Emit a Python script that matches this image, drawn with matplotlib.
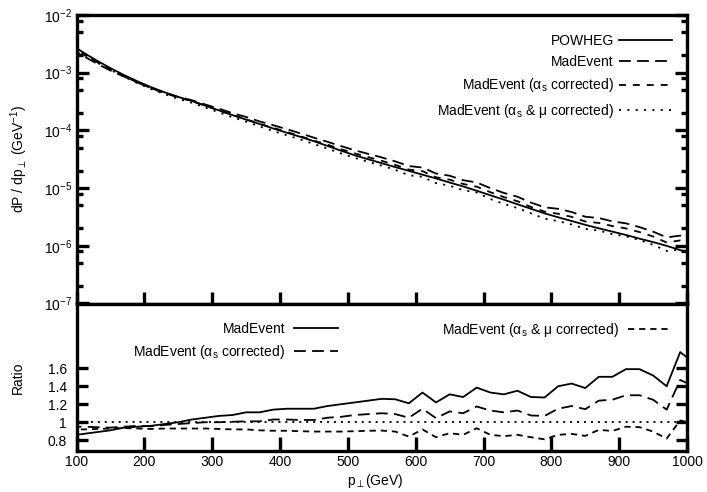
import matplotlib
matplotlib.use('Agg')
import matplotlib.pyplot as plt
from matplotlib.ticker import FixedLocator, FixedFormatter, NullFormatter, NullLocator, LogLocator

# ---------------- data ----------------
pt_bins = [90, 110, 130, 150, 170, 190, 210, 230, 250, 270, 290, 310, 330, 350, 370,
           390, 410, 430, 450, 470, 490, 510, 530, 550, 570, 590, 610, 630, 650, 670,
           690, 710, 730, 750, 770, 790, 810, 830, 850, 870, 890, 910, 930, 950, 970,
           990, 1010]

powheg = [3.16e-3, 2.24e-3, 1.62e-3, 1.20e-3, 9.12e-4, 7.08e-4, 5.62e-4, 4.57e-4, 3.80e-4, 3.24e-4,
          2.68e-4, 2.22e-4, 1.84e-4, 1.54e-4, 1.29e-4, 1.08e-4, 9.12e-5, 7.73e-5, 6.50e-5, 5.38e-5,
          4.45e-5, 3.71e-5, 3.16e-5, 2.70e-5, 2.31e-5, 1.99e-5, 1.71e-5, 1.47e-5, 1.25e-5, 1.07e-5,
          9.0e-6, 7.52e-6, 6.30e-6, 5.25e-6, 4.38e-6, 3.65e-6, 3.12e-6, 2.69e-6, 2.31e-6, 2.01e-6,
          1.76e-6, 1.54e-6, 1.33e-6, 1.16e-6, 9.98e-7, 8.43e-7, 7.14e-7]

madevent = [2.69e-3, 1.95e-3, 1.44e-3, 1.09e-3, 8.57e-4, 6.73e-4, 5.40e-4, 4.48e-4, 3.80e-4, 3.34e-4,
            2.81e-4, 2.38e-4, 1.99e-4, 1.71e-4, 1.43e-4, 1.23e-4, 1.05e-4, 8.89e-5, 7.48e-5, 6.35e-5,
            5.34e-5, 4.53e-5, 3.92e-5, 3.40e-5, 2.90e-5, 2.41e-5, 2.27e-5, 1.79e-5, 1.64e-5, 1.37e-5,
            1.25e-5, 1.00e-5, 8.25e-6, 7.09e-6, 5.61e-6, 4.65e-6, 4.37e-6, 3.85e-6, 3.19e-6, 3.03e-6,
            2.65e-6, 2.45e-6, 2.11e-6, 1.76e-6, 1.40e-6, 1.50e-6, 1.19e-6]

madevent_as = [3.00e-3, 2.13e-3, 1.53e-3, 1.13e-3, 8.66e-4, 6.80e-4, 5.37e-4, 4.43e-4, 3.72e-4, 3.21e-4,
               2.68e-4, 2.22e-4, 1.85e-4, 1.56e-4, 1.30e-4, 1.11e-4, 9.39e-5, 7.92e-5, 6.66e-5, 5.65e-5,
               4.72e-5, 4.01e-5, 3.44e-5, 2.97e-5, 2.52e-5, 2.09e-5, 1.97e-5, 1.54e-5, 1.40e-5, 1.18e-5,
               1.06e-5, 8.50e-6, 6.99e-6, 5.93e-6, 4.71e-6, 3.91e-6, 3.59e-6, 3.17e-6, 2.64e-6, 2.49e-6,
               2.20e-6, 2.00e-6, 1.73e-6, 1.45e-6, 1.14e-6, 1.24e-6, 1.00e-6]

madevent_as_mu = [2.91e-3, 2.06e-3, 1.50e-3, 1.12e-3, 8.53e-4, 6.58e-4, 5.20e-4, 4.25e-4, 3.53e-4, 3.01e-4,
                  2.49e-4, 2.05e-4, 1.69e-4, 1.42e-4, 1.17e-4, 9.77e-5, 8.25e-5, 6.96e-5, 5.82e-5, 4.82e-5,
                  3.99e-5, 3.34e-5, 2.86e-5, 2.45e-5, 2.07e-5, 1.67e-5, 1.57e-5, 1.22e-5, 1.10e-5, 9.20e-6,
                  8.40e-6, 6.47e-6, 5.32e-6, 4.52e-6, 3.65e-6, 2.96e-6, 2.68e-6, 2.34e-6, 1.96e-6, 1.84e-6,
                  1.59e-6, 1.46e-6, 1.26e-6, 1.04e-6, 8.16e-7, 8.60e-7, 7.00e-7]

ratio_madevent = [0.85, 0.87, 0.89, 0.91, 0.94, 0.95, 0.96, 0.98, 1.00, 1.03,
                  1.05, 1.07, 1.08, 1.11, 1.11, 1.14, 1.15, 1.15, 1.15, 1.18,
                  1.20, 1.22, 1.24, 1.26, 1.255, 1.21, 1.33, 1.22, 1.31, 1.28,
                  1.385, 1.33, 1.31, 1.35, 1.28, 1.275, 1.40, 1.43, 1.38, 1.505,
                  1.505, 1.59, 1.59, 1.52, 1.40, 1.78, 1.66]

ratio_alphas = [0.95, 0.95, 0.945, 0.94, 0.95, 0.96, 0.955, 0.97, 0.98, 0.99,
                1.00, 1.00, 1.005, 1.01, 1.01, 1.03, 1.03, 1.025, 1.025, 1.05,
                1.06, 1.08, 1.09, 1.10, 1.09, 1.05, 1.15, 1.045, 1.12, 1.10,
                1.175, 1.13, 1.11, 1.13, 1.075, 1.07, 1.15, 1.18, 1.145, 1.24,
                1.25, 1.30, 1.30, 1.25, 1.14, 1.47, 1.40]

ratio_alphas_mu = [0.92, 0.92, 0.925, 0.93, 0.935, 0.93, 0.925, 0.93, 0.93, 0.93,
                   0.93, 0.925, 0.92, 0.92, 0.91, 0.905, 0.905, 0.90, 0.896, 0.896,
                   0.896, 0.90, 0.905, 0.907, 0.896, 0.84, 0.92, 0.833, 0.878, 0.86,
                   0.933, 0.86, 0.845, 0.86, 0.833, 0.81, 0.86, 0.87, 0.848, 0.915,
                   0.903, 0.95, 0.945, 0.896, 0.818, 1.02, 0.98]

x_ticks = [100, 200, 300, 400, 500, 600, 700, 800, 900, 1000]
x_ticklabels = ['100', '200', '300', '400', '500', '600', '700', '800', '900', '1000']
log_ticks = [1e-7, 1e-6, 1e-5, 1e-4, 1e-3, 1e-2]
log_ticklabels = [r'$\mathregular{10^{-7}}$', r'$\mathregular{10^{-6}}$', r'$\mathregular{10^{-5}}$',
                  r'$\mathregular{10^{-4}}$', r'$\mathregular{10^{-3}}$', r'$\mathregular{10^{-2}}$']
ratio_ticks = [0.8, 1.0, 1.2, 1.4, 1.6]
ratio_ticklabels = ['0.8', '1', '1.2', '1.4', '1.6']

lab_powheg = 'POWHEG'
lab_me = 'MadEvent'
lab_me_as = r'MadEvent ($\mathrm{\alpha_s}$ corrected)'
lab_me_asmu = r'MadEvent ($\mathrm{\alpha_s}$ & $\mathrm{\mu}$ corrected)'

# ---------------- style ----------------
plt.rcParams['font.family'] = ['Liberation Sans', 'DejaVu Sans']
plt.rcParams['mathtext.fontset'] = 'custom'
plt.rcParams['mathtext.rm'] = 'Liberation Sans'
plt.rcParams['mathtext.it'] = 'Liberation Sans:italic'
plt.rcParams['mathtext.bf'] = 'Liberation Sans:bold'
plt.rcParams['mathtext.sf'] = 'Liberation Sans'
plt.rcParams['lines.scale_dashes'] = False
plt.rcParams['font.size'] = 10

W, H = 707.0, 492.0
fig = plt.figure(figsize=(7.07, 4.92), dpi=100)
xl, xr = 76.5, 687.0
yt, ym, yb = 15.0, 303.5, 451.0
ax1 = fig.add_axes([xl / W, 1 - ym / H, (xr - xl) / W, (ym - yt) / H])
ax2 = fig.add_axes([xl / W, 1 - yb / H, (xr - xl) / W, (yb - ym) / H])

lw = 1.3
spw = 2.4
LONG = (8.5, 4.5)
SHORT = (5.0, 5.0)
DOT = (1.5, 4.5)

# top panel
ax1.plot(pt_bins, powheg, color='k', lw=lw, ls='-', label=lab_powheg)
ax1.plot(pt_bins, madevent, color='k', lw=lw, dashes=LONG, label=lab_me)
ax1.plot(pt_bins, madevent_as, color='k', lw=lw, dashes=SHORT, label=lab_me_as)
ax1.plot(pt_bins, madevent_as_mu, color='k', lw=lw, dashes=DOT, label=lab_me_asmu)
ax1.set_yscale('log')
ax1.set_xlim(100, 1000)
ax1.set_ylim(1e-7, 1e-2)
ax1.yaxis.set_major_locator(FixedLocator(log_ticks))
ax1.yaxis.set_major_formatter(FixedFormatter(log_ticklabels))
ax1.yaxis.set_minor_locator(LogLocator(base=10, subs=(2.0, 5.0, 8.0)))
ax1.yaxis.set_minor_formatter(NullFormatter())
ax1.xaxis.set_major_locator(FixedLocator(x_ticks))
ax1.xaxis.set_minor_locator(NullLocator())
ax1.tick_params(axis='x', which='major', direction='in', bottom=True, top=False,
                labelbottom=False, length=8.3, width=spw)
ax1.tick_params(axis='y', which='major', direction='in', left=True, right=True,
                length=8.6, width=spw, pad=3, labelsize=10)
ax1.tick_params(axis='y', which='minor', direction='in', left=True, right=True,
                length=4.0, width=spw)
ax1.set_ylabel(r'dP / dp$_{\perp}$ (GeV$^{\mathregular{-1}}$)', fontsize=10)
ax1.yaxis.set_label_coords((30 - xl) / (xr - xl), 0.5)
for s in ax1.spines.values():
    s.set_linewidth(spw)

leg1 = ax1.legend(loc='upper right',
                  bbox_to_anchor=((672 - xl) / (xr - xl), 1 - (34 - yt) / (ym - yt)),
                  frameon=False, markerfirst=False, handlelength=3.8, handletextpad=0.4,
                  labelspacing=0.52, borderpad=0, borderaxespad=0, fontsize=10)

# bottom panel
h1, = ax2.plot(pt_bins, ratio_madevent, color='k', lw=lw, ls='-', label=lab_me)
h2, = ax2.plot(pt_bins, ratio_alphas, color='k', lw=lw, dashes=LONG, label=lab_me_as)
h3, = ax2.plot(pt_bins, ratio_alphas_mu, color='k', lw=lw, dashes=(4.5, 3.5), label=lab_me_asmu)
ax2.axhline(1.0, color='k', lw=lw, dashes=(1.5, 3.5))
ax2.set_xlim(100, 1000)
ax2.set_ylim(0.68, 2.32)
ax2.xaxis.set_major_locator(FixedLocator(x_ticks))
ax2.xaxis.set_major_formatter(FixedFormatter(x_ticklabels))
ax2.yaxis.set_major_locator(FixedLocator(ratio_ticks))
ax2.yaxis.set_major_formatter(FixedFormatter(ratio_ticklabels))
ax2.xaxis.set_minor_locator(NullLocator())
ax2.yaxis.set_minor_locator(NullLocator())
ax2.tick_params(axis='x', direction='in', bottom=True, top=False, length=10, width=spw,
                pad=3, labelsize=10)
ax2.tick_params(axis='y', direction='in', left=True, right=True, length=8.0, width=spw,
                pad=7, labelsize=10)
ax2.set_ylabel('Ratio', fontsize=10)
ax2.yaxis.set_label_coords((25 - xl) / (xr - xl), 0.5)
ax2.set_xlabel(r'p$_{\perp}$(GeV)', fontsize=10)
ax2.xaxis.set_label_coords(0.49, -(472 - yb) / (yb - ym))
for s in ax2.spines.values():
    s.set_linewidth(spw)

legA = ax2.legend(handles=[h1, h2], loc='upper right',
                  bbox_to_anchor=((338 - xl) / (xr - xl), 1 - (322 - ym) / (yb - ym)),
                  frameon=False, markerfirst=False, handlelength=3.2, handletextpad=0.6,
                  labelspacing=0.5, borderpad=0, borderaxespad=0, fontsize=10)
ax2.add_artist(legA)
legB = ax2.legend(handles=[h3], loc='upper right',
                  bbox_to_anchor=((672 - xl) / (xr - xl), 1 - (321 - ym) / (yb - ym)),
                  frameon=False, markerfirst=False, handlelength=3.2, handletextpad=0.6,
                  borderpad=0, borderaxespad=0, fontsize=10)

fig.savefig('out.png', dpi=100)
